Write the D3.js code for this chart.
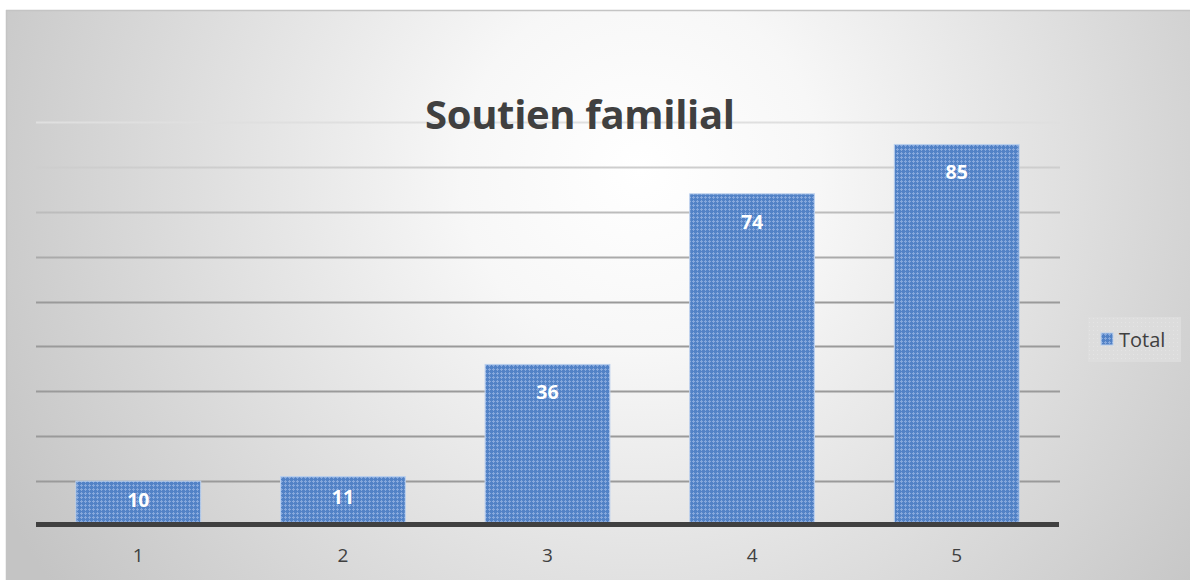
<!DOCTYPE html>
<html>
<head>
<meta charset="utf-8">
<script src="https://cdn.jsdelivr.net/npm/d3@7"></script>
<style>
  body { margin: 0; background: #fff; }
  svg { display: block; }
</style>
</head>
<body>
<div id="chart"></div>
<script>
// data
var categories = ["1", "2", "3", "4", "5"];
var totals = [10, 11, 36, 74, 85];
var gridTicks = [10, 20, 30, 40, 50, 60, 70, 80, 90];
var seriesName = "Total";
var chartTitle = "Soutien familial";

var W = 1190, H = 580;
var margin = { left: 36, right: 1059, top: 122, bottom: 526 };

var svg = d3.select("#chart").append("svg")
    .attr("width", W)
    .attr("height", H);

var defs = svg.append("defs");

// background gradient, bright in the middle, gray at the edges
var bg = defs.append("radialGradient")
    .attr("id", "bg")
    .attr("gradientUnits", "userSpaceOnUse")
    .attr("cx", 640).attr("cy", 170).attr("r", 720);
bg.append("stop").attr("offset", "0").attr("stop-color", "#ffffff");
bg.append("stop").attr("offset", "0.25").attr("stop-color", "#f7f7f7");
bg.append("stop").attr("offset", "1").attr("stop-color", "#c4c4c4");

// gridlines fade towards the top
var gl = defs.append("linearGradient")
    .attr("id", "gridGrad")
    .attr("gradientUnits", "userSpaceOnUse")
    .attr("x1", 0).attr("y1", 110).attr("x2", 0).attr("y2", 300);
gl.append("stop").attr("offset", "0").attr("stop-color", "#e4e4e4");
gl.append("stop").attr("offset", "1").attr("stop-color", "#9a9a9a");

// bar texture
var pat = defs.append("pattern")
    .attr("id", "dots")
    .attr("patternUnits", "userSpaceOnUse")
    .attr("width", 4).attr("height", 4);
pat.append("rect").attr("width", 4).attr("height", 4).attr("fill", "#5282c6");
pat.append("rect").attr("x", 1).attr("y", 0).attr("width", 1).attr("height", 3).attr("fill", "#86a8dc");
pat.append("rect").attr("x", 0).attr("y", 1).attr("width", 3).attr("height", 1).attr("fill", "#86a8dc");

var legPat = defs.append("pattern")
    .attr("id", "legdots")
    .attr("patternUnits", "userSpaceOnUse")
    .attr("width", 4).attr("height", 4);
legPat.append("rect").attr("width", 4).attr("height", 4).attr("fill", "#dedede");
legPat.append("rect").attr("x", 1).attr("y", 1).attr("width", 1).attr("height", 1).attr("fill", "#e8e8e8");

svg.append("rect")
    .attr("width", W).attr("height", H)
    .attr("fill", "#ffffff");

svg.append("rect")
    .attr("x", 6).attr("y", 10)
    .attr("width", W - 6).attr("height", H - 10)
    .attr("fill", "url(#bg)");

// frame edges
svg.append("line")
    .attr("x1", 6).attr("y1", 10.5).attr("x2", W).attr("y2", 10.5)
    .attr("stroke", "#c4c4c4").attr("stroke-width", 1.5);
svg.append("line")
    .attr("x1", 6.5).attr("y1", 10).attr("x2", 6.5).attr("y2", H)
    .attr("stroke", "#c4c4c4").attr("stroke-width", 1.5);

var x = d3.scaleBand()
    .domain(categories)
    .range([margin.left, margin.right])
    .paddingInner(0.39)
    .paddingOuter(0.195);

var y = d3.scaleLinear()
    .domain([0, 90])
    .range([margin.bottom, margin.top]);

// gridlines
svg.append("g")
    .selectAll("line")
    .data(gridTicks)
    .enter()
    .append("line")
    .attr("x1", margin.left)
    .attr("x2", margin.right + 1)
    .attr("y1", function(d) { return Math.round(y(d)) + 0.5; })
    .attr("y2", function(d) { return Math.round(y(d)) + 0.5; })
    .attr("stroke", "url(#gridGrad)")
    .attr("stroke-width", 2);

// title
svg.append("text")
    .attr("x", 580)
    .attr("y", 129)
    .attr("text-anchor", "middle")
    .attr("font-family", "'Open Sans', sans-serif")
    .attr("font-weight", "bold")
    .attr("font-size", 40)
    .attr("textLength", 310)
    .attr("fill", "#404040")
    .text(chartTitle);

// bars
svg.append("g")
    .selectAll("rect")
    .data(totals)
    .enter()
    .append("rect")
    .attr("x", function(d, i) { return x(categories[i]); })
    .attr("y", function(d) { return y(d); })
    .attr("width", x.bandwidth())
    .attr("height", function(d) { return y(0) - y(d); })
    .attr("fill", "url(#dots)")
    .attr("stroke", "#bcd1ee")
    .attr("stroke-width", 1);

// data labels, inside end (centred when the bar is short)
function labelY(d) {
    return Math.min(y(d) + 28, (y(d) + y(0)) / 2 - 4) + 7;
}
svg.append("g")
    .selectAll("text")
    .data(totals)
    .enter()
    .append("text")
    .attr("x", function(d, i) { return x(categories[i]) + x.bandwidth() / 2; })
    .attr("y", labelY)
    .attr("text-anchor", "middle")
    .attr("font-family", "'Open Sans', sans-serif")
    .attr("font-weight", "bold")
    .attr("font-size", 19.5)
    .attr("fill", "#ffffff")
    .text(function(d) { return d; });

// axis line
svg.append("line")
    .attr("x1", margin.left)
    .attr("x2", margin.right)
    .attr("y1", y(0) - 1.5)
    .attr("y2", y(0) - 1.5)
    .attr("stroke", "#404040")
    .attr("stroke-width", 5);

// category axis labels
var xAxis = svg.append("g")
    .attr("transform", "translate(0," + (y(0) + 6) + ")")
    .call(d3.axisBottom(x).tickSize(0).tickPadding(17));
xAxis.select(".domain").remove();
xAxis.selectAll("text")
    .attr("font-family", "'Open Sans', sans-serif")
    .attr("font-size", 19)
    .attr("fill", "#404040");

// legend
var legend = svg.append("g").attr("transform", "translate(1088,317)");
legend.append("rect")
    .attr("width", 93).attr("height", 45)
    .attr("fill", "url(#legdots)")
    .attr("opacity", 0.8);
legend.append("rect")
    .attr("x", 13).attr("y", 16)
    .attr("width", 12).attr("height", 12)
    .attr("fill", "url(#dots)")
    .attr("stroke", "#bcd1ee")
    .attr("stroke-width", 1);
legend.append("text")
    .attr("x", 31).attr("y", 30)
    .attr("font-family", "'Open Sans', sans-serif")
    .attr("font-size", 20)
    .attr("fill", "#404040")
    .text(seriesName);
</script>
</body>
</html>
